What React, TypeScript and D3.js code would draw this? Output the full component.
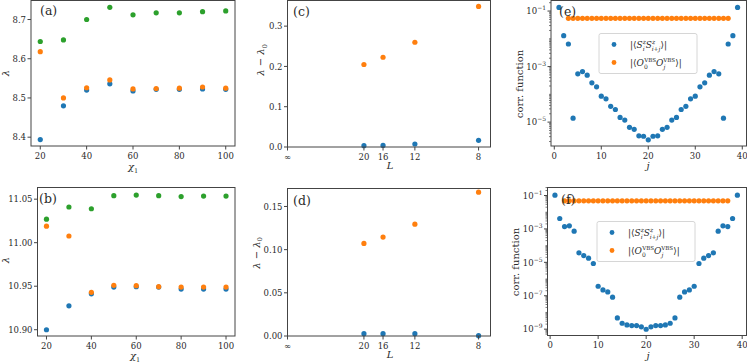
import * as d3 from 'd3';
import React from 'react';

const FONT = 'DejaVu Serif';
const BLUE = '#1f77b4';
const ORANGE = '#ff7f0e';
const GREEN = '#2ca02c';
const INK = '#2a2a2a';

// (a), (b): eigenvalue vs bond dimension chi_1
const chi = [20, 30, 40, 50, 60, 70, 80, 90, 100];
const aBlue = [8.394, 8.48, 8.52, 8.536, 8.518, 8.522, 8.522, 8.523, 8.522];
const aOrange = [8.618, 8.5, 8.526, 8.546, 8.523, 8.524, 8.525, 8.528, 8.525];
const aGreen = [8.644, 8.648, 8.7, 8.731, 8.712, 8.717, 8.717, 8.72, 8.722];
const bBlue = [10.9, 10.9275, 10.9413, 10.949, 10.9494, 10.949, 10.9467, 10.9467, 10.9467];
const bOrange = [11.019, 11.0077, 10.943, 10.951, 10.9506, 10.9495, 10.949, 10.949, 10.949];
const bGreen = [11.027, 11.041, 11.039, 11.054, 11.0547, 11.054, 11.053, 11.0535, 11.0535];

// (c), (d): gap vs system size L (plotted against 1/L)
const sizes = [20, 16, 12, 8];
const cOrange = [0.2047, 0.2228, 0.26, 0.349];
const cBlue = [0.0033, 0.004, 0.0074, 0.0165];
const dOrange = [0.1072, 0.1145, 0.1295, 0.1665];
const dBlue = [0.0027, 0.0027, 0.0027, 0.0004];

// (e), (f): correlation functions
const jSpin = [1, 2, 3, 4, 5, 6, 7, 8, 9, 10, 11, 12, 13, 14, 15, 16, 17, 18, 19, 20,
  21, 22, 23, 24, 25, 26, 27, 28, 29, 30, 31, 32, 33, 34, 35, 36, 37, 38, 39];
const eSpin = [0.135, 0.013, 6.5e-3, 1.39e-5, 5.5e-4, 6.6e-4, 4.9e-4, 2.6e-4, 1.86e-4, 8.6e-5,
  6.9e-5, 3.7e-5, 2.85e-5, 1.47e-5, 1.18e-5, 6.5e-6, 5.5e-6, 3.2e-6, 3.1e-6, 2.3e-6,
  3.1e-6, 3.2e-6, 5.5e-6, 6.5e-6, 1.18e-5, 1.47e-5, 2.85e-5, 3.7e-5, 6.9e-5, 8.6e-5,
  1.86e-4, 2.6e-4, 4.9e-4, 6.6e-4, 5.5e-4, 1.39e-5, 6.5e-3, 0.013, 0.135];
const fSpin = [0.105, 4.2e-3, 1.39e-3, 1.53e-3, 7.3e-4, 3.7e-5, 2.55e-5, 1.77e-5, 8.5e-6, 3.7e-7,
  2.24e-7, 1.7e-7, 8.2e-8, 4.7e-9, 2.26e-9, 1.8e-9, 1.64e-9, 1.64e-9, 1.37e-9, 9.9e-10,
  1.37e-9, 1.64e-9, 1.64e-9, 1.8e-9, 2.26e-9, 4.7e-9, 8.2e-8, 1.7e-7, 2.24e-7, 3.7e-7,
  8.5e-6, 1.77e-5, 2.55e-5, 3.7e-5, 7.3e-4, 1.53e-3, 1.39e-3, 4.2e-3, 0.105];
const jVbs = [3, 4, 5, 6, 7, 8, 9, 10, 11, 12, 13, 14, 15, 16, 17, 18, 19, 20,
  21, 22, 23, 24, 25, 26, 27, 28, 29, 30, 31, 32, 33, 34, 35, 36, 37];
const eVbs = [0.0546, 0.0546, 0.0546, 0.0546, 0.0546, 0.0546, 0.0546, 0.0546, 0.0546, 0.0546,
  0.0546, 0.0546, 0.0546, 0.0546, 0.0546, 0.0546, 0.0546, 0.0546, 0.0546, 0.0546,
  0.0546, 0.0546, 0.0546, 0.0546, 0.0546, 0.0546, 0.0546, 0.0546, 0.0546, 0.0546,
  0.0546, 0.0546, 0.0546, 0.0546, 0.0546];
const fVbs = [0.048, 0.048, 0.048, 0.048, 0.048, 0.048, 0.048, 0.048, 0.048, 0.048,
  0.048, 0.048, 0.048, 0.048, 0.048, 0.048, 0.048, 0.048, 0.048, 0.048,
  0.048, 0.048, 0.048, 0.048, 0.048, 0.048, 0.048, 0.048, 0.048, 0.048,
  0.048, 0.048, 0.048, 0.048, 0.048];

const chiTicks = [20, 40, 60, 80, 100];
const sizeTicks = ['∞', '20', '16', '12', '8'];
const jTicks = [0, 10, 20, 30, 40];

type Series = { x: number[]; y: number[]; color: string };
type Box = { l: number; r: number; t: number; b: number };
type Tick = { v: number; label: React.ReactNode };

const pow10 = (e: number) => (
  <>
    <tspan>10</tspan>
    <tspan dy={-4} fontSize={6}>{`−${e}`}</tspan>
  </>
);

function Panel(props: {
  box: Box;
  x: (v: number) => number;
  y: (v: number) => number;
  xTicks: Tick[];
  yTicks: Tick[];
  yMinor?: number[];
  series: Series[];
  tag: string;
  tagPos: [number, number];
  xLabel: React.ReactNode;
  xLabelPos: [number, number];
  yLabel: React.ReactNode;
  yLabelPos: [number, number];
  children?: React.ReactNode;
}) {
  const { box, x, y } = props;
  return (
    <g fill={INK}>
      {props.series.map((s, k) => (
        <g key={k} fill={s.color}>
          {s.x.map((xv, i) => (
            <circle key={i} cx={x(xv)} cy={y(s.y[i])} r={2.6} />
          ))}
        </g>
      ))}
      <rect x={box.l} y={box.t} width={box.r - box.l} height={box.b - box.t}
        fill="none" stroke="#444" strokeWidth={1} />
      {props.xTicks.map((t, i) => (
        <g key={i} transform={`translate(${x(t.v)},${box.b})`}>
          <line y2={3.5} stroke="#444" />
          <text y={12.5} textAnchor="middle" fontSize={8.5} fontFamily={FONT}>{t.label}</text>
        </g>
      ))}
      {props.yTicks.map((t, i) => (
        <g key={i} transform={`translate(${box.l},${y(t.v)})`}>
          <line x2={-3.5} stroke="#444" />
          <text x={-5} y={3.2} textAnchor="end" fontSize={8.5} fontFamily={FONT}>{t.label}</text>
        </g>
      ))}
      {(props.yMinor || []).map((v, i) => (
        <line key={i} x1={box.l} x2={box.l - 2} y1={y(v)} y2={y(v)} stroke="#444" strokeWidth={0.7} />
      ))}
      <text x={props.tagPos[0]} y={props.tagPos[1]} fontSize={12.5} fontFamily={FONT}>{props.tag}</text>
      <text x={props.xLabelPos[0]} y={props.xLabelPos[1]} textAnchor="middle" fontSize={10} fontFamily={FONT}>
        {props.xLabel}
      </text>
      <text transform={`translate(${props.yLabelPos[0]},${props.yLabelPos[1]}) rotate(-90)`}
        textAnchor="middle" fontSize={10} fontFamily={FONT}>
        {props.yLabel}
      </text>
      {props.children}
    </g>
  );
}

function Legend({ x, y }: { x: number; y: number }) {
  return (
    <g fill={INK} fontFamily={FONT}>
      <rect x={x} y={y} width={98} height={40} rx={2} fill="white" fillOpacity={0.85} stroke="#d6d6d6" />
      <circle cx={x + 15} cy={y + 11} r={2.4} fill={BLUE} />
      <circle cx={x + 15} cy={y + 29} r={2.4} fill={ORANGE} />
      <text x={x + 31} y={y + 14.5} fontSize={9} fontFamily={FONT}>
        <tspan>|⟨</tspan>
        <tspan fontStyle="italic">S</tspan>
        <tspan fontSize={6} fontStyle="italic" dy={3}>i</tspan>
        <tspan fontSize={6} fontStyle="italic" dx={-2} dy={-7}>z</tspan>
        <tspan fontStyle="italic" dy={4}>S</tspan>
        <tspan fontSize={6} fontStyle="italic" dy={-4}>z</tspan>
        <tspan fontSize={6} fontStyle="italic" dx={-3.5} dy={7}>i+j</tspan>
        <tspan dy={-3}>⟩|</tspan>
      </text>
      <text x={x + 31} y={y + 32.5} fontSize={9} fontFamily={FONT}>
        <tspan>|⟨</tspan>
        <tspan fontStyle="italic">O</tspan>
        <tspan fontSize={6} dy={3}>0</tspan>
        <tspan fontSize={5.5} dx={-3.5} dy={-7.5}>VBS</tspan>
        <tspan fontStyle="italic" dy={4.5}>O</tspan>
        <tspan fontSize={6} fontStyle="italic" dy={3}>j</tspan>
        <tspan fontSize={5.5} dx={-2} dy={-7.5}>VBS</tspan>
        <tspan dy={4.5}>⟩|</tspan>
      </text>
    </g>
  );
}

function logMinor(lo: number, hi: number, majors: number[]) {
  const out: number[] = [];
  for (let e = Math.floor(lo) - 1; e <= Math.ceil(hi); e++) {
    for (let k = 1; k < 10; k++) {
      const v = k * Math.pow(10, e);
      const lv = Math.log10(v);
      if (lv < lo || lv > hi) continue;
      if (k === 1 && majors.includes(e)) continue;
      out.push(v);
    }
  }
  return out;
}

export default function App() {
  // (a)
  const boxA = { l: 31, r: 235, t: 0.5, b: 146 };
  const xA = d3.scaleLinear().domain([16, 104]).range([boxA.l, boxA.r]);
  const yA = d3.scaleLinear().domain([8.3775, 8.7485]).range([boxA.b, boxA.t]);
  // (b)
  const boxB = { l: 37.5, r: 235, t: 187.5, b: 336 };
  const xB = d3.scaleLinear().domain([16, 104]).range([boxB.l, boxB.r]);
  const yB = d3.scaleLinear().domain([10.8928, 11.0634]).range([boxB.b, boxB.t]);
  // (c), (d)
  const boxC = { l: 287.5, r: 490.5, t: 0.5, b: 147 };
  const xC = d3.scaleLinear().domain([0, 0.1328]).range([boxC.l, boxC.r]);
  const yC = d3.scaleLinear().domain([0, 0.3636]).range([boxC.b, boxC.t]);
  const boxD = { l: 287.5, r: 490.5, t: 188.5, b: 336 };
  const xD = d3.scaleLinear().domain([0, 0.1328]).range([boxD.l, boxD.r]);
  const yD = d3.scaleLinear().domain([0, 0.1708]).range([boxD.b, boxD.t]);
  // (e), (f)
  const boxE = { l: 551, r: 746.5, t: 0.5, b: 146 };
  const xE = d3.scaleLinear().domain([-0.7, 40.9]).range([boxE.l, boxE.r]);
  const yE = d3.scaleLog().domain([Math.pow(10, -5.86), Math.pow(10, -0.62)]).range([boxE.b, boxE.t]);
  const boxF = { l: 547.5, r: 746.5, t: 187.5, b: 335.5 };
  const xF = d3.scaleLinear().domain([-0.55, 40.9]).range([boxF.l, boxF.r]);
  const yF = d3.scaleLog().domain([Math.pow(10, -9.38), Math.pow(10, -0.52)]).range([boxF.b, boxF.t]);

  const invSize = sizes.map((L) => 1 / L);
  const sizeTickVals = [0, ...invSize];
  const chiX: Tick[] = chiTicks.map((v) => ({ v, label: String(v) }));
  const sizeX: Tick[] = sizeTicks.map((s, i) => ({ v: sizeTickVals[i], label: s }));
  const jX: Tick[] = jTicks.map((v) => ({ v, label: String(v) }));
  const lin = (ticks: number[], fmt: string): Tick[] =>
    ticks.map((v) => ({ v, label: d3.format(fmt)(v) }));

  const lambdaDiff = (
    <>
      <tspan fontStyle="italic">λ</tspan>
      <tspan> − </tspan>
      <tspan fontStyle="italic">λ</tspan>
      <tspan fontSize={6.5} dy={2.5}>0</tspan>
    </>
  );
  const chiLabel = (
    <>
      <tspan fontStyle="italic">χ</tspan>
      <tspan fontSize={6.5} dy={2.5}>1</tspan>
    </>
  );

  return (
    <svg width={747} height={362} style={{ position: 'absolute', left: 0, top: 0 }} fontFamily={FONT}>
      <rect width={747} height={362} fill="white" />
      <Panel box={boxA} x={xA} y={yA} xTicks={chiX} yTicks={lin([8.4, 8.5, 8.6, 8.7], '.1f')}
        series={[
          { x: chi, y: aBlue, color: BLUE },
          { x: chi, y: aOrange, color: ORANGE },
          { x: chi, y: aGreen, color: GREEN },
        ]}
        tag="(a)" tagPos={[40, 15]} xLabel={chiLabel} xLabelPos={[133, 170]}
        yLabel={<tspan fontStyle="italic">λ</tspan>} yLabelPos={[9, 73]} />
      <Panel box={boxB} x={xB} y={yB} xTicks={chiX} yTicks={lin([10.9, 10.95, 11.0, 11.05], '.2f')}
        series={[
          { x: chi, y: bBlue, color: BLUE },
          { x: chi, y: bOrange, color: ORANGE },
          { x: chi, y: bGreen, color: GREEN },
        ]}
        tag="(b)" tagPos={[39, 203]} xLabel={chiLabel} xLabelPos={[135, 359]}
        yLabel={<tspan fontStyle="italic">λ</tspan>} yLabelPos={[9, 260]} />
      <Panel box={boxC} x={xC} y={yC} xTicks={sizeX} yTicks={lin([0, 0.1, 0.2, 0.3], '.1f')}
        series={[
          { x: invSize, y: cBlue, color: BLUE },
          { x: invSize, y: cOrange, color: ORANGE },
        ]}
        tag="(c)" tagPos={[293, 16]} xLabel={<tspan fontStyle="italic">L</tspan>} xLabelPos={[390, 169]}
        yLabel={lambdaDiff} yLabelPos={[264, 60]} />
      <Panel box={boxD} x={xD} y={yD} xTicks={sizeX} yTicks={lin([0, 0.05, 0.1, 0.15], '.2f')}
        series={[
          { x: invSize, y: dBlue, color: BLUE },
          { x: invSize, y: dOrange, color: ORANGE },
        ]}
        tag="(d)" tagPos={[293, 205]} xLabel={<tspan fontStyle="italic">L</tspan>} xLabelPos={[390, 358]}
        yLabel={lambdaDiff} yLabelPos={[259.5, 253]} />
      <Panel box={boxE} x={xE} y={yE} xTicks={jX}
        yTicks={[1, 3, 5].map((e) => ({ v: Math.pow(10, -e), label: pow10(e) }))}
        yMinor={logMinor(-5.86, -0.62, [-1, -3, -5])}
        series={[
          { x: jSpin, y: eSpin, color: BLUE },
          { x: jVbs, y: eVbs, color: ORANGE },
        ]}
        tag="(e)" tagPos={[559, 16]} xLabel={<tspan fontStyle="italic">j</tspan>} xLabelPos={[648, 169]}
        yLabel="corr. function" yLabelPos={[523, 84]}>
        <Legend x={599} y={33.5} />
      </Panel>
      <Panel box={boxF} x={xF} y={yF} xTicks={jX}
        yTicks={[1, 3, 5, 7, 9].map((e) => ({ v: Math.pow(10, -e), label: pow10(e) }))}
        yMinor={logMinor(-9.38, -0.52, [-1, -3, -5, -7, -9])}
        series={[
          { x: jSpin, y: fSpin, color: BLUE },
          { x: jVbs, y: fVbs, color: ORANGE },
        ]}
        tag="(f)" tagPos={[561, 204]} xLabel={<tspan fontStyle="italic">j</tspan>} xLabelPos={[648, 359]}
        yLabel="corr. function" yLabelPos={[519, 262]}>
        <Legend x={597} y={221.5} />
      </Panel>
    </svg>
  );
}
